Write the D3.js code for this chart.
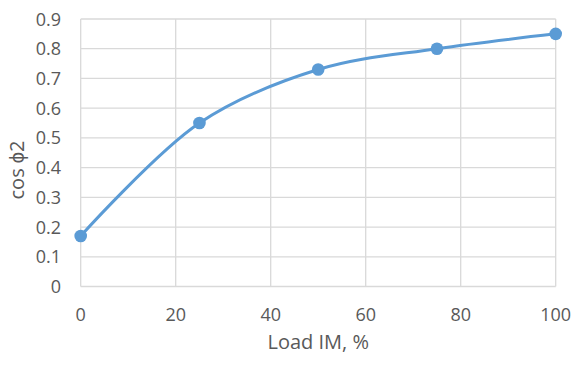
<!DOCTYPE html>
<html><head><meta charset="utf-8">
<script src="https://cdn.jsdelivr.net/npm/d3@7"></script>
<style>
html,body{margin:0;padding:0;background:#fff;}
text{font-family:"Open Sans",sans-serif;fill:#595959;}
</style></head>
<body>
<svg id="c" width="586" height="370"></svg>
<script>
const loads = [0, 25, 50, 75, 100];
const cosPhi = [0.17, 0.55, 0.73, 0.80, 0.85];
const xTicks = [0, 20, 40, 60, 80, 100];
const yTicks = [0, 0.1, 0.2, 0.3, 0.4, 0.5, 0.6, 0.7, 0.8, 0.9];
const xTitle = "Load IM, %";
const yTitle = "cos \u03D52";

const svg = d3.select("#c");
const x = d3.scaleLinear().domain([0, 100]).range([80.7, 555.7]);
const y = d3.scaleLinear().domain([0, 0.9]).range([286.5, 19]);

// gridlines
svg.append("g").selectAll("line").data(yTicks).join("line")
  .attr("x1", x(0)).attr("x2", x(100))
  .attr("y1", d => y(d)).attr("y2", d => y(d))
  .attr("stroke", "#d9d9d9").attr("stroke-width", 1.3);
svg.append("g").selectAll("line").data(xTicks).join("line")
  .attr("y1", y(0)).attr("y2", y(0.9))
  .attr("x1", d => x(d)).attr("x2", d => x(d))
  .attr("stroke", "#d9d9d9").attr("stroke-width", 1.3);

// tick labels
svg.append("g").selectAll("text").data(yTicks).join("text")
  .attr("x", 61).attr("y", d => y(d) + 6.5)
  .attr("text-anchor", "end").attr("font-size", 18)
  .text(d => d === 0 ? "0" : d3.format(".1f")(d));
svg.append("g").selectAll("text").data(xTicks).join("text")
  .attr("x", d => x(d)).attr("y", y(0) + 34)
  .attr("text-anchor", "middle").attr("font-size", 18)
  .text(d => d);

// titles
svg.append("text").attr("x", x(50)).attr("y", 349)
  .attr("text-anchor", "middle").attr("font-size", 20).text(xTitle);
svg.append("text").attr("transform", "translate(24,170) rotate(-90)")
  .attr("text-anchor", "middle").attr("font-size", 20).text(yTitle);

// line
const pts = loads.map((d, i) => [d, cosPhi[i]]);
const line = d3.line().x(d => x(d[0])).y(d => y(d[1])).curve(d3.curveCatmullRom.alpha(0.5));
svg.append("path").datum(pts).attr("d", line)
  .attr("fill", "none").attr("stroke", "#5b9bd5").attr("stroke-width", 3)
  .attr("stroke-linecap", "round");
svg.append("g").selectAll("circle").data(pts).join("circle")
  .attr("cx", d => x(d[0])).attr("cy", d => y(d[1])).attr("r", 6.3)
  .attr("fill", "#5b9bd5");
</script>
</body></html>
